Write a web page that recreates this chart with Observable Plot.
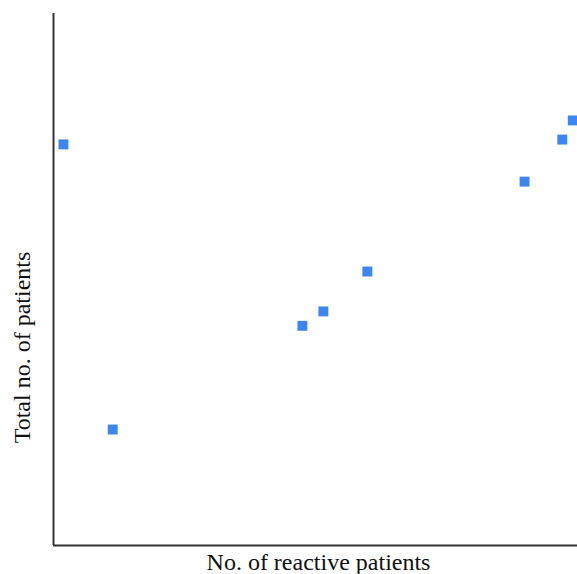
<!DOCTYPE html>
<html>
<head>
<meta charset="utf-8">
<script src="https://cdn.jsdelivr.net/npm/d3@7"></script>
<script src="https://cdn.jsdelivr.net/npm/@observablehq/plot@0.6"></script>
<style>
  html, body { margin: 0; padding: 0; background: #fff; }
</style>
</head>
<body>
<div id="chart"></div>
<script>
// Relative positions (no tick values are shown)
const reactivePatients = [1.9, 11.3, 47.5, 51.5, 59.9, 89.9, 97.1, 99.1];
const totalPatients    = [75.4, 21.8, 41.3, 44.0, 51.5, 68.4, 76.3, 79.9];
const xLabel = "No. of reactive patients";
const yLabel = "Total no. of patients";

const data = reactivePatients.map((x, i) => ({x, y: totalPatients[i]}));

const chart = Plot.plot({
  width: 577,
  height: 574,
  marginLeft: 53,
  marginRight: 0,
  marginTop: 13,
  marginBottom: 29,
  style: {fontFamily: "'Liberation Serif', 'Times New Roman', serif", background: "#fff"},
  x: {domain: [0, 100], axis: null},
  y: {domain: [0, 100], axis: null},
  marks: [
    Plot.ruleX([0], {stroke: "#333", strokeWidth: 2}),
    Plot.ruleY([0], {stroke: "#333", strokeWidth: 2}),
    Plot.dot(data, {x: "x", y: "y", symbol: "square", r: 5.6, fill: "#3d86f2", stroke: "none"}),
    Plot.text([xLabel], {frameAnchor: "bottom", dx: 3, dy: 17, lineAnchor: "middle", fontSize: 24, fill: "#111"}),
    Plot.text([yLabel], {frameAnchor: "left", dx: -31, dy: 68, rotate: -90, textAnchor: "middle", lineAnchor: "middle", fontSize: 24, fill: "#111"})
  ]
});
document.getElementById("chart").appendChild(chart);
</script>
</body>
</html>
